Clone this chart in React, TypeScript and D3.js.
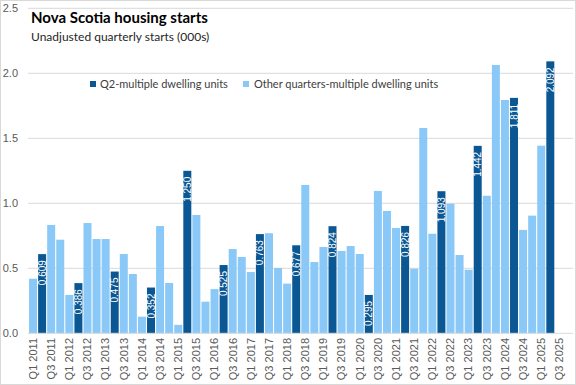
import * as d3 from "d3";

const years = [2011, 2012, 2013, 2014, 2015, 2016, 2017, 2018, 2019, 2020, 2021, 2022, 2023, 2024, 2025];
const quarterNames = ["Q1", "Q2", "Q3", "Q4"];

// quarterly starts (000s), Q1 2011 .. Q4 2025 (last two not yet reported)
const starts: (number | null)[] = [
  0.42, 0.609, 0.833, 0.72,
  0.295, 0.386, 0.848, 0.725,
  0.725, 0.475, 0.61, 0.456,
  0.128, 0.352, 0.825, 0.387,
  0.065, 1.25, 0.91, 0.243,
  0.34, 0.525, 0.648, 0.587,
  0.471, 0.763, 0.77, 0.502,
  0.382, 0.677, 1.141, 0.548,
  0.664, 0.824, 0.633, 0.671,
  0.61, 0.295, 1.095, 0.941,
  0.81, 0.826, 0.497, 1.579,
  0.766, 1.093, 0.997, 0.602,
  0.489, 1.442, 1.058, 2.064,
  1.795, 1.811, 0.795, 0.905,
  1.443, 2.092, null, null,
];

const yTicks = [0, 0.5, 1, 1.5, 2, 2.5];
const seriesNames = ["Q2-multiple dwelling units", "Other quarters-multiple dwelling units"];

const W = 576;
const H = 385;
const dark = "#0b5794";
const light = "#89c8f7";
const axisFont = "'Liberation Sans', Arial, sans-serif";
const titleFont = "Lato, 'Open Sans', sans-serif";

const categories = years.flatMap((y) => quarterNames.map((q) => `${q} ${y}`));

export default function App() {
  const x = d3.scaleBand<string>().domain(categories).range([28.5, 573]).paddingInner(0.12).paddingOuter(0.06);
  const y = d3.scaleLinear().domain([0, 2.5]).range([333.3, 8.3]);
  const fmt = d3.format(".3f");
  const yFmt = d3.format(".1f");

  return (
    <svg width={W} height={H} style={{ position: "absolute", left: 0, top: 0, background: "#fff" }}>
      <rect x={0.5} y={0.5} width={W - 1} height={H - 1} fill="#fff" stroke="#d9d9d9" />
      {yTicks.map((t) => (
        <g key={t}>
          {t > 0 && <line x1={28} x2={573} y1={y(t)} y2={y(t)} stroke="#d9d9d9" strokeWidth={1} />}
          <text x={18} y={y(t)} dy="0.35em" textAnchor="end" fontFamily={axisFont} fontSize={11} fill="#595959">
            {yFmt(t)}
          </text>
        </g>
      ))}
      {categories.map((c, i) => {
        const v = starts[i];
        if (v == null) return null;
        const isQ2 = c.startsWith("Q2");
        const bx = x(c)!;
        return (
          <rect key={c} x={bx} y={y(v)} width={x.bandwidth()} height={y(0) - y(v)} fill={isQ2 ? dark : light} />
        );
      })}
      {categories.map((c, i) => {
        const v = starts[i];
        if (v == null || !c.startsWith("Q2")) return null;
        const cx = x(c)! + x.bandwidth() / 2;
        const ty = y(v) + 6;
        return (
          <text
            key={"l" + c}
            transform={`translate(${cx},${ty}) rotate(-90)`}
            textAnchor="end"
            dy="0.35em"
            fontFamily={axisFont}
            fontSize={10}
            fill="#ffffff"
          >
            {fmt(v)}
          </text>
        );
      })}
      <line x1={28} x2={573} y1={y(0)} y2={y(0)} stroke="#d9d9d9" />
      {categories.map((c, i) =>
        i % 2 === 0 ? (
          <text
            key={"x" + c}
            transform={`translate(${x(c)! + x.bandwidth() / 2},338) rotate(-90)`}
            textAnchor="end"
            dy="0.35em"
            fontFamily={axisFont}
            fontSize={11}
            fill="#595959"
          >
            {c}
          </text>
        ) : null
      )}
      <text x={31} y={23} fontFamily={titleFont} fontWeight="bold" fontSize={15} fill="#000">
        Nova Scotia housing starts
      </text>
      <text x={31} y={41} fontFamily={titleFont} fontSize={12} fill="#262626">
        Unadjusted quarterly starts (000s)
      </text>
      <rect x={90} y={81} width={6} height={6} fill={dark} />
      <text x={100} y={87.5} fontFamily={titleFont} fontSize={11} fill="#404040">
        {seriesNames[0]}
      </text>
      <rect x={243} y={81} width={6} height={6} fill={light} />
      <text x={254} y={87.5} fontFamily={titleFont} fontSize={11} fill="#404040">
        {seriesNames[1]}
      </text>
    </svg>
  );
}
